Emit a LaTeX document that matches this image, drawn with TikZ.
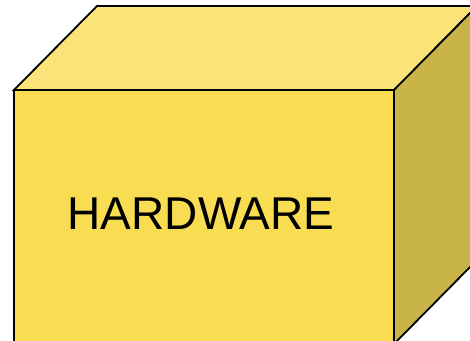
\documentclass[tikz,border=0pt]{standalone}
\usepackage{fontspec}
\setmainfont{Liberation Sans}
\usetikzlibrary{positioning}
\definecolor{hwfront}{RGB}{248,221,82}
\definecolor{hwtop}{RGB}{250,228,122}
\definecolor{hwside}{RGB}{201,180,73}
\tikzset{every picture/.style={line width=1.8pt}}
\begin{document}
\begin{tikzpicture}[x=1pt,y=-1pt,line join=miter]
    % picture frame
    \useasboundingbox (0,0) rectangle (470,340);
    \clip (0,0) rectangle (470,340);

    % top face
    \draw[fill=hwtop] (14,90) -- (97,6) -- (477,6) -- (394,90) -- cycle;
    % side face
    \draw[fill=hwside] (394,90) -- (477,6) -- (477,260) -- (394,344) -- cycle;
    % front face
    \draw[fill=hwfront] (14,90) rectangle (394,344);

    % label
    \node[font=\fontsize{46}{50}\selectfont, inner sep=0pt] (hwlabel) at (201,213.5) {HARDWARE};
\end{tikzpicture}
\end{document}
